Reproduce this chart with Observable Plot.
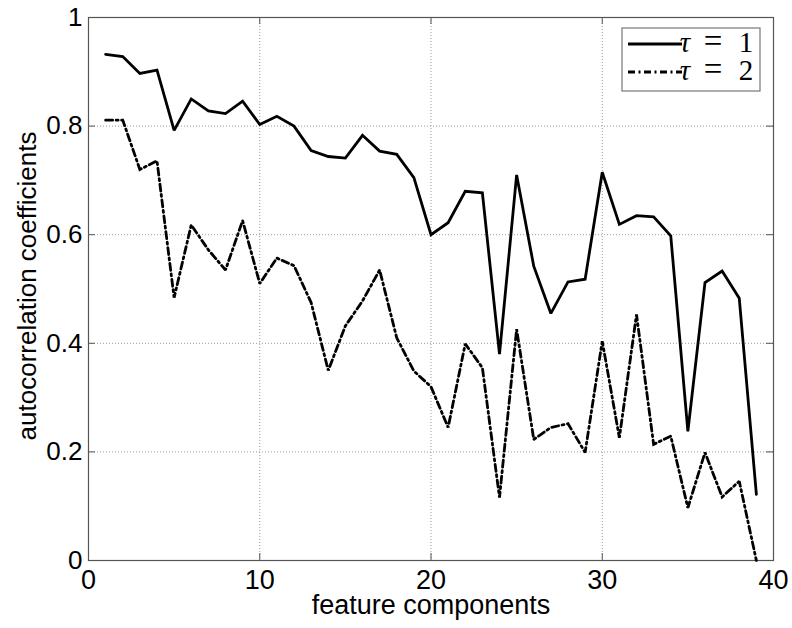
<!DOCTYPE html>
<html>
<head>
<meta charset="utf-8">
<script src="https://cdn.jsdelivr.net/npm/d3@7"></script>
<script src="https://cdn.jsdelivr.net/npm/@observablehq/plot@0.6"></script>
<style>
  html, body { margin: 0; padding: 0; background: #fff; }
  #chart { width: 792px; height: 628px; }
</style>
</head>
<body>
<div id="chart"></div>
<script>
const components = [1,2,3,4,5,6,7,8,9,10,11,12,13,14,15,16,17,18,19,20,21,22,23,24,25,26,27,28,29,30,31,32,33,34,35,36,37,38,39];
const tau1 = [0.932,0.928,0.897,0.903,0.792,0.850,0.828,0.823,0.846,0.803,
              0.818,0.800,0.755,0.744,0.741,0.783,0.754,0.748,0.705,0.600,
              0.622,0.680,0.677,0.380,0.710,0.542,0.455,0.513,0.518,0.715,
              0.619,0.635,0.633,0.598,0.238,0.512,0.533,0.483,0.122];
const tau2 = [0.811,0.811,0.720,0.736,0.484,0.618,0.572,0.535,0.626,0.510,
              0.557,0.543,0.475,0.350,0.432,0.478,0.535,0.410,0.349,0.320,
              0.245,0.399,0.355,0.116,0.426,0.223,0.245,0.252,0.199,0.404,
              0.226,0.453,0.214,0.229,0.097,0.199,0.117,0.146,0.000];
const seriesSymbol = "τ";
const seriesLags = ["1", "2"];
const xTicks = [0,10,20,30,40];
const yTicks = [0,0.2,0.4,0.6,0.8,1];
const yTickLabels = ["0","0.2","0.4","0.6","0.8","1"];
const xLabel = "feature components";
const yLabel = "autocorrelation coefficients";

const rows1 = components.map((c,i) => ({x:c, y:tau1[i]}));
const rows2 = components.map((c,i) => ({x:c, y:tau2[i]}));

const W = 792, H = 628;
const mL = 88, mR = 19, mT = 17, mB = 68;
const innerH = H - mT - mB;
const innerW = W - mL - mR;
const tickLen = 7;
const sans = "'Liberation Sans', Arial, Helvetica, sans-serif";
const axisColor = "#555";
const gridColor = "#999";
const dashDot = "7,3.5,2,3.5";

const chart = Plot.plot({
  width: W, height: H,
  marginLeft: mL, marginRight: mR, marginTop: mT, marginBottom: mB,
  style: {fontFamily: sans, fontSize: "26px", background: "#fff", color: "#000", overflow: "visible"},
  x: {domain: [0,40]},
  y: {domain: [0,1]},
  marks: [
    Plot.gridX(xTicks.slice(1,-1), {stroke: gridColor, strokeOpacity: 1, strokeDasharray: "1,2", strokeWidth: 1}),
    Plot.gridY(yTicks.slice(1,-1), {stroke: gridColor, strokeOpacity: 1, strokeDasharray: "1,2", strokeWidth: 1}),
    // inward ticks (bottom/top/left/right)
    Plot.ruleX(xTicks, {x: d => d, stroke: axisColor, insetTop: innerH - tickLen}),
    Plot.ruleX(xTicks, {x: d => d, stroke: axisColor, insetBottom: innerH - tickLen}),
    Plot.ruleY(yTicks, {y: d => d, stroke: axisColor, insetRight: innerW - tickLen}),
    Plot.ruleY(yTicks, {y: d => d, stroke: axisColor, insetLeft: innerW - tickLen}),
    Plot.frame({stroke: axisColor, strokeWidth: 1.2}),
    Plot.axisX(xTicks, {tickSize: 0, tickPadding: 9, fontSize: 27, label: null}),
    Plot.axisY(yTicks, {tickSize: 0, tickPadding: 6, fontSize: 26, label: null,
                        tickFormat: (d) => yTickLabels[yTicks.indexOf(d)]}),
    Plot.line(rows1, {x: "x", y: "y", stroke: "#000", strokeWidth: 2.8, strokeLinejoin: "miter", strokeMiterlimit: 2}),
    Plot.line(rows2, {x: "x", y: "y", stroke: "#000", strokeWidth: 2.8, strokeDasharray: dashDot, strokeLinejoin: "miter", strokeMiterlimit: 2}),
    Plot.text([xLabel], {frameAnchor: "bottom", dy: 53, fontSize: 27, fill: "#000"}),
    Plot.text([yLabel], {frameAnchor: "left", textAnchor: "middle", rotate: -90, dx: -61, dy: -3, fontSize: 26, fill: "#000"})
  ]
});

document.getElementById("chart").appendChild(chart);

// Legend (MATLAB style box, top-right inside the axes)
const svg = d3.select(chart);
const lg = svg.append("g").attr("class", "legend");
lg.append("rect").attr("x", 622).attr("y", 28).attr("width", 138).attr("height", 63)
  .attr("fill", "#fff").attr("stroke", "#777").attr("stroke-width", 1.2);
const legendItems = [
  {lag: seriesLags[0], dash: null, y: 44},
  {lag: seriesLags[1], dash: dashDot, y: 72}
];
const serif = "'Liberation Serif', 'DejaVu Serif', serif";
legendItems.forEach(it => {
  lg.append("line").attr("x1", 628).attr("x2", 682).attr("y1", it.y).attr("y2", it.y)
    .attr("stroke", "#000").attr("stroke-width", 2.8)
    .attr("stroke-dasharray", it.dash);
  const row = lg.append("text").attr("y", it.y + 8)
    .attr("font-family", serif).attr("font-size", 29).attr("fill", "#000");
  row.append("tspan").attr("x", 685).attr("font-style", "italic").text(seriesSymbol);
  row.append("tspan").attr("x", 713).attr("font-size", 33).text("=");
  row.append("tspan").attr("x", 746).text(it.lag);
});
</script>
</body>
</html>
